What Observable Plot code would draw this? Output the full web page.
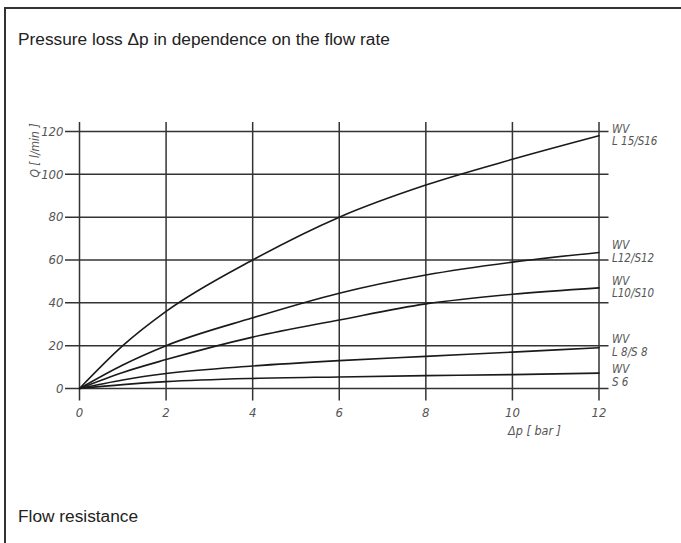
<!DOCTYPE html>
<html><head><meta charset="utf-8">
<script src="https://cdn.jsdelivr.net/npm/d3@7"></script>
<script src="https://cdn.jsdelivr.net/npm/@observablehq/plot@0.6"></script>
<style>
html,body{margin:0;padding:0;background:#fff;overflow:hidden;}
#wrap{position:relative;width:681px;height:543px;overflow:hidden;background:#fff;}
#frame{position:absolute;left:4px;top:7px;width:677px;height:536px;box-sizing:border-box;border-left:2px solid #333;border-top:2px solid #333;}
.txt{position:absolute;left:18px;font-family:"Liberation Sans",Arial,sans-serif;font-size:17.3px;line-height:1;color:#222;white-space:nowrap;}
#title{top:31px;}
#caption{top:508.4px;}
#chart{position:absolute;left:0;top:0;}
</style>
</head><body>
<div id="wrap">
  <div id="frame"></div>
  <div id="chart"></div>
  <div class="txt" id="title">Pressure loss Δp in dependence on the flow rate</div>
  <div class="txt" id="caption">Flow resistance</div>
</div>
<script>
// Δp [bar] sample positions
const dp = [0, 1, 2, 4, 6, 8, 10, 12];
// Q [l/min] per valve size
const qL15 = [0, 20, 36, 60, 80, 95, 107, 118];
const qL12 = [0, 11, 20, 33, 44.5, 53, 59, 63.5];
const qL10 = [0, 7.5, 13.5, 24, 32, 39.5, 44, 47];
const qL8  = [0, 4, 7, 10.5, 13, 15, 17, 19];
const qS6  = [0, 1.8, 3.2, 4.7, 5.4, 6, 6.5, 7.2];
const seriesNames = ["L 15/S16", "L12/S12", "L10/S10", "L 8/S 8", "S 6"];
const seriesValues = [qL15, qL12, qL10, qL8, qS6];
const labelPrefix = "WV";
const xTicks = [0, 2, 4, 6, 8, 10, 12];
const yTicks = [0, 20, 40, 60, 80, 100, 120];
const xLabel = "Δp [ bar ]";
const yLabel = "Q [ l/min ]";

const rows = seriesNames.flatMap((name, s) => dp.map((x, i) => ({series: name, dp: x, q: seriesValues[s][i]})));
const ends = seriesNames.map((name, s) => ({label: labelPrefix + "\n" + name, dp: dp[dp.length - 1], q: seriesValues[s][dp.length - 1]}));

const tickFont = {fontFamily: "'Liberation Sans Narrow','DejaVu Sans Condensed','Arial Narrow',sans-serif", fontStyle: "italic"};
const labelStyle = {x: "dp", y: "q", text: "label", textAnchor: "start", lineAnchor: "middle", lineHeight: 1.1, dx: 13, fontSize: 11.5, fill: "#555", ...tickFont};

const chart = Plot.plot({
  width: 681, height: 543,
  marginLeft: 79, marginRight: 82.5, marginTop: 131, marginBottom: 155,
  x: {domain: [0, 12]},
  y: {domain: [0, 120]},
  style: {background: "transparent", overflow: "visible", fontFamily: tickFont.fontFamily},
  marks: [
    Plot.ruleX(xTicks, {stroke: "#333", strokeWidth: 1.5, insetTop: -9, insetBottom: -12.5}),
    Plot.ruleY(yTicks, {stroke: "#333", strokeWidth: 1.5, insetLeft: -14, insetRight: -10}),
    Plot.line(rows, {x: "dp", y: "q", z: "series", curve: "monotone-x", stroke: "#1a1a1a", strokeWidth: 1.6}),
    Plot.axisX(xTicks, {tickSize: 0, tickPadding: 19, label: null, fontSize: 13, fill: "#555", ...tickFont}),
    Plot.axisY(yTicks, {tickSize: 0, tickPadding: 16, label: null, fontSize: 13, fill: "#555", ...tickFont}),
    Plot.text(ends.slice(0, 3), {...labelStyle, dy: -1}),
    Plot.text(ends.slice(3, 4), {...labelStyle, dy: -2.5}),
    Plot.text(ends.slice(4), {...labelStyle, dy: 2.5}),
    Plot.text([xLabel], {frameAnchor: "bottom-right", textAnchor: "end", lineAnchor: "middle", dx: -38, dy: 42, fontSize: 12.5, fill: "#555", ...tickFont}),
    Plot.text([yLabel], {frameAnchor: "top-left", textAnchor: "middle", lineAnchor: "middle", rotate: -90, dx: -44, dy: 19, fontSize: 12, fill: "#555", ...tickFont})
  ]
});
document.getElementById("chart").appendChild(chart);
</script>
</body></html>
